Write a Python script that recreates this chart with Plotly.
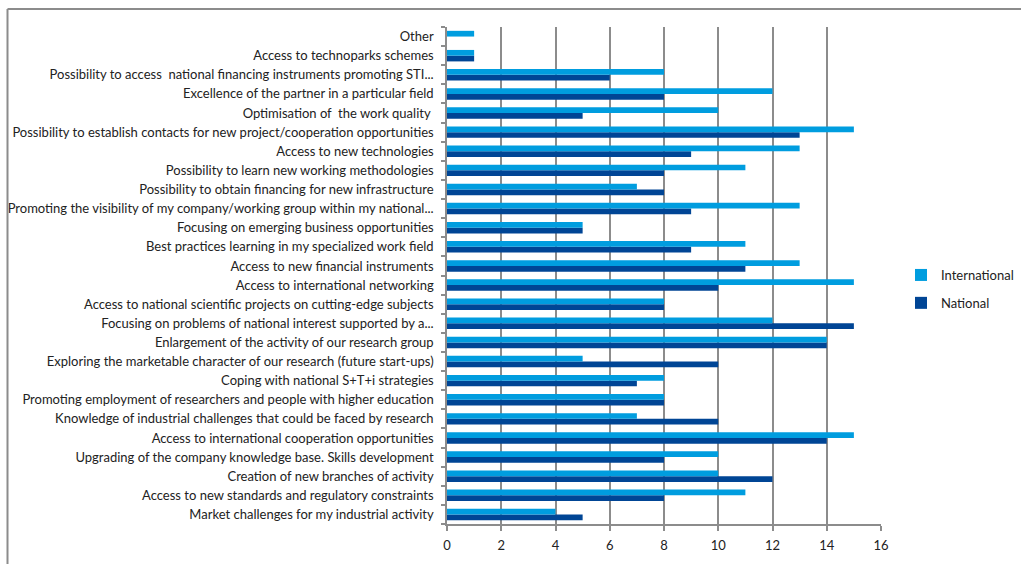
import plotly.graph_objects as go

categories = [
    "Market challenges for my industrial activity",
    "Access to new standards and regulatory constraints",
    "Creation of new branches of activity",
    "Upgrading of the company knowledge base. Skills development",
    "Access to international cooperation opportunities",
    "Knowledge of industrial challenges that could be faced by research",
    "Promoting employment of researchers and people with higher education",
    "Coping with national S+T+i strategies",
    "Exploring the marketable character of our research (future start-ups)",
    "Enlargement of the activity of our research group",
    "Focusing on problems of national interest supported by a...",
    "Access to national scientific projects on cutting-edge subjects",
    "Access to international networking",
    "Access to new financial instruments",
    "Best practices learning in my specialized work field",
    "Focusing on emerging business opportunities",
    "Promoting the visibility of my company/working group within my national...",
    "Possibility to obtain financing for new infrastructure",
    "Possibility to learn new working methodologies",
    "Access to new technologies",
    "Possibility to establish contacts for new project/cooperation opportunities",
    "Optimisation of  the work quality ",
    "Excellence of the partner in a particular field",
    "Possibility to access  national financing instruments promoting STI...",
    "Access to technoparks schemes",
    "Other",
]
international = [4, 11, 10, 10, 15, 7, 8, 8, 5, 14, 12, 8, 15, 13, 11, 5, 13, 7, 11, 13, 15, 10, 12, 8, 1, 1]
national = [5, 8, 12, 8, 14, 10, 8, 7, 10, 14, 15, 8, 10, 11, 9, 5, 9, 8, 8, 9, 13, 5, 8, 6, 1, 0]
x_ticks = [0, 2, 4, 6, 8, 10, 12, 14, 16]

W, H = 1021, 564
L, R, T, B = 447, 881, 27, 524

fig = go.Figure()
fig.add_trace(go.Bar(y=categories, x=national, name="National", orientation="h",
                     legendgroup="nat", legendrank=2,
                     marker=dict(color="#004595", line=dict(width=0))))
fig.add_trace(go.Bar(y=categories, x=international, name="International", orientation="h",
                     legendgroup="int", legendrank=1,
                     marker=dict(color="#009DDF", line=dict(width=0))))

font_family = "Lato, 'Open Sans', sans-serif"

def px_x(p):
    return (p - L) / (R - L)

def px_y(p):
    return (B - p) / (B - T)

fig.update_layout(
    width=W, height=H,
    margin=dict(l=L, r=W - R, t=T, b=H - B, pad=0, autoexpand=False),
    paper_bgcolor="white", plot_bgcolor="white",
    barmode="group", bargap=0.4, bargroupgap=0,
    font=dict(family=font_family, size=13, color="#222222"),
    showlegend=True,
    legend=dict(traceorder="grouped", x=px_x(901), y=px_y(289), xanchor="left", yanchor="middle",
                font=dict(size=13, color="#222222"), itemwidth=30, tracegroupgap=8,
                bgcolor="rgba(0,0,0,0)"),
    xaxis=dict(range=[0, 16], tickvals=x_ticks, showgrid=True, gridcolor="#8c8c8c", gridwidth=1.5,
               zeroline=False, showline=True, linecolor="#8c8c8c", linewidth=1.5,
               ticks="outside", ticklen=5, tickcolor="#8c8c8c", tickwidth=1.5,
               ticklabelstandoff=4,
               tickfont=dict(size=13, color="#222222"), fixedrange=True),
    yaxis=dict(showgrid=False, zeroline=False, showline=True, linecolor="#8c8c8c", linewidth=1.5,
               ticks="outside", ticklen=4, tickcolor="#8c8c8c", tickwidth=1.5,
               tickson="boundaries", ticklabelstandoff=9,
               tickfont=dict(size=13, color="#222222"), automargin=False, fixedrange=True),
    shapes=[
        dict(type="line", xref="paper", yref="paper", x0=px_x(7.5), x1=px_x(7.5),
             y0=px_y(H + 5), y1=px_y(9), line=dict(color="#8c8c8c", width=2)),
        dict(type="line", xref="paper", yref="paper", x0=px_x(7.5), x1=px_x(W + 5),
             y0=px_y(9), y1=px_y(9), line=dict(color="#8c8c8c", width=2)),
    ],
)

fig.write_html("out.html")
